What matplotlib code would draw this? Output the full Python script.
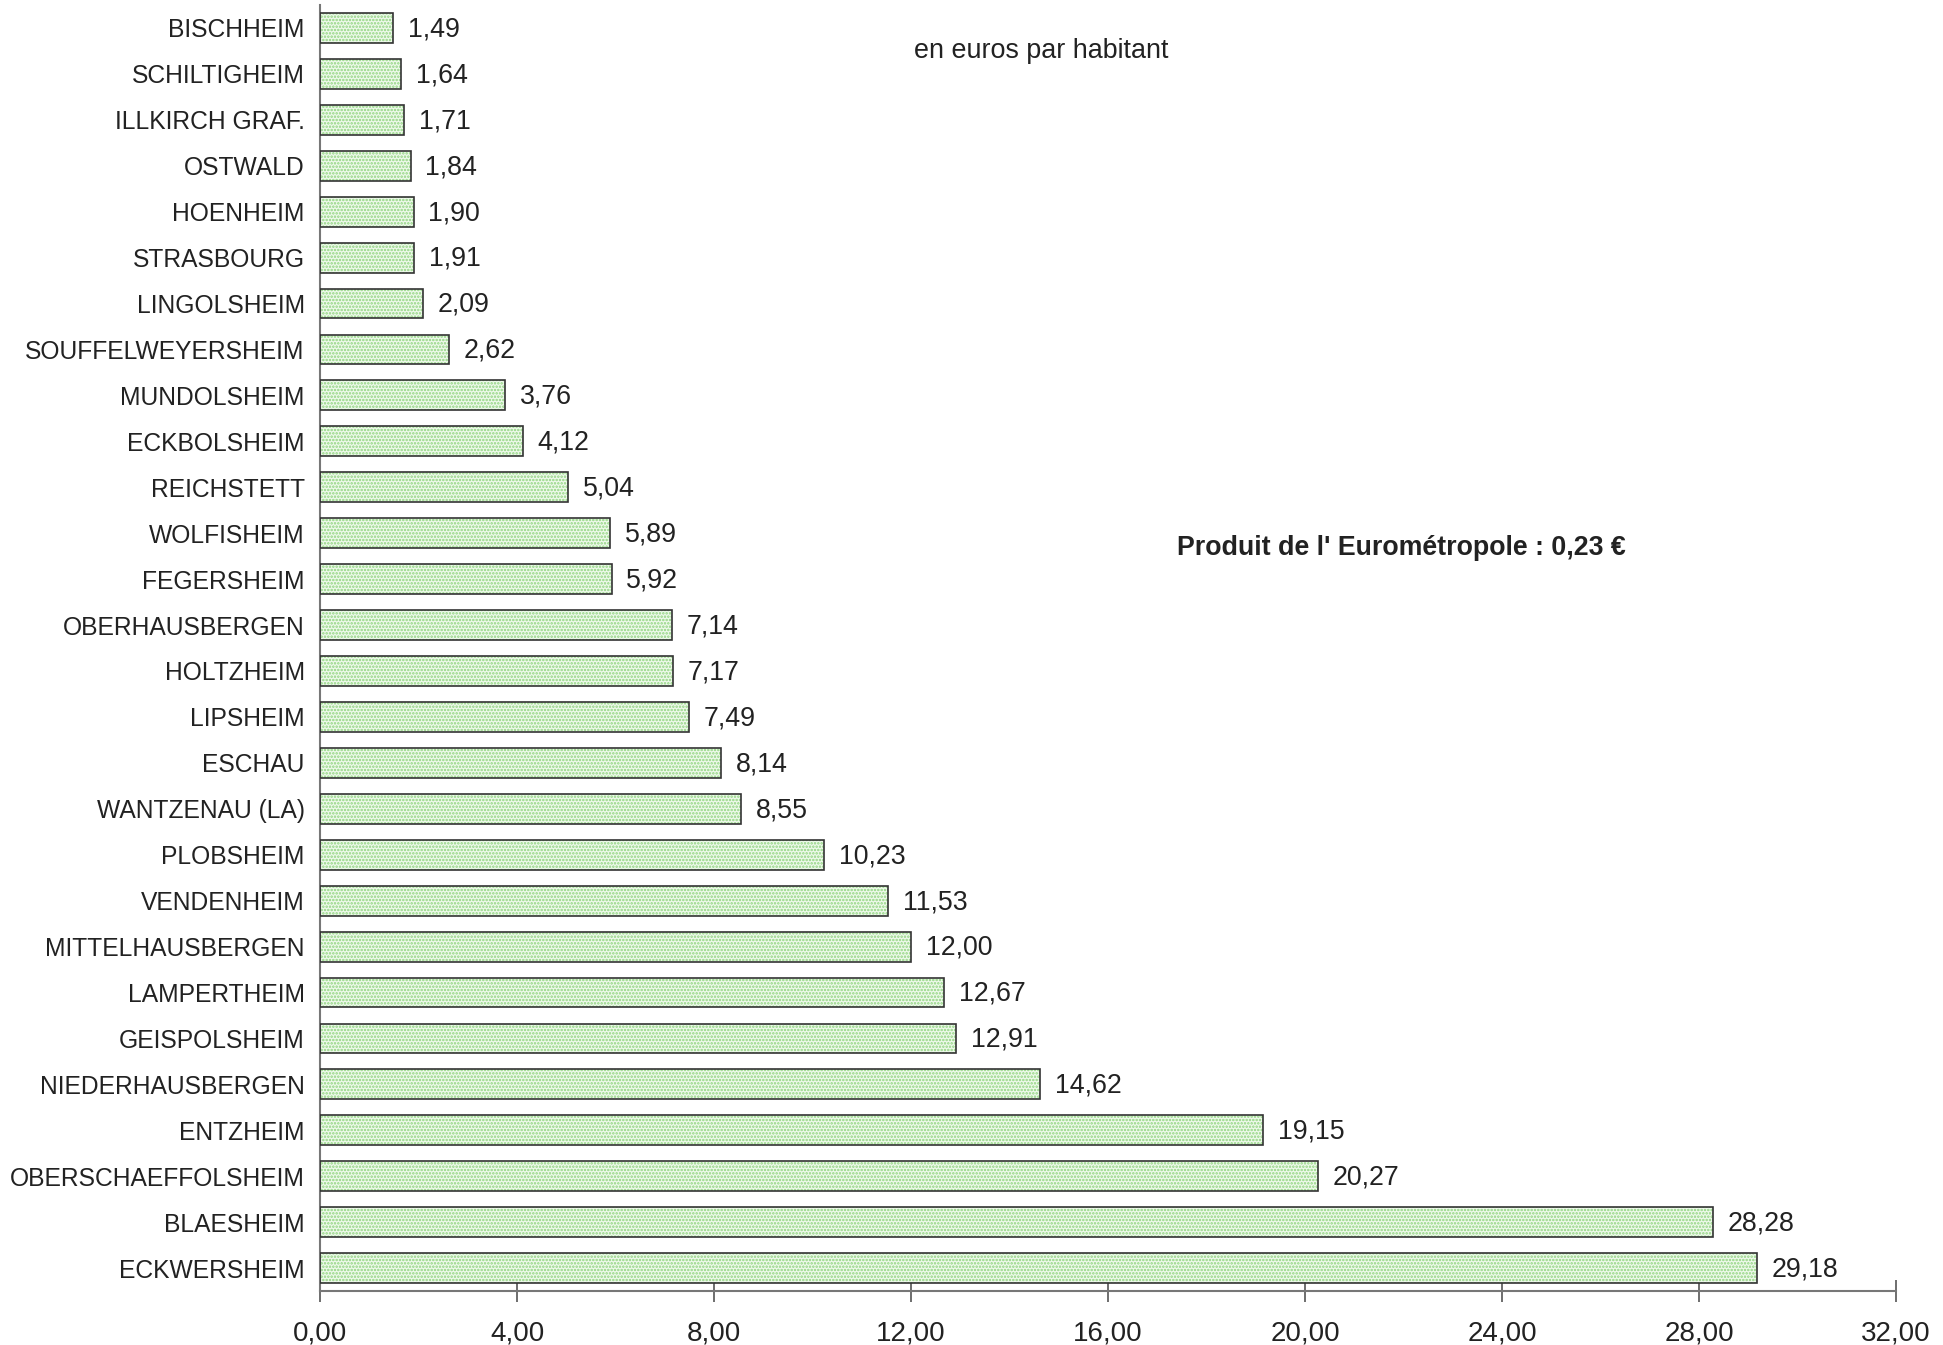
import matplotlib
matplotlib.use("Agg")
import matplotlib.pyplot as plt
import numpy as np

plt.rcParams['font.family'] = ['Liberation Sans', 'DejaVu Sans']
plt.rcParams['hatch.linewidth'] = 1.2

communes = ["BISCHHEIM", "SCHILTIGHEIM", "ILLKIRCH GRAF.", "OSTWALD", "HOENHEIM",
            "STRASBOURG", "LINGOLSHEIM", "SOUFFELWEYERSHEIM", "MUNDOLSHEIM",
            "ECKBOLSHEIM", "REICHSTETT", "WOLFISHEIM", "FEGERSHEIM",
            "OBERHAUSBERGEN", "HOLTZHEIM", "LIPSHEIM", "ESCHAU", "WANTZENAU (LA)",
            "PLOBSHEIM", "VENDENHEIM", "MITTELHAUSBERGEN", "LAMPERTHEIM",
            "GEISPOLSHEIM", "NIEDERHAUSBERGEN", "ENTZHEIM", "OBERSCHAEFFOLSHEIM",
            "BLAESHEIM", "ECKWERSHEIM"]
valeurs = [1.49, 1.64, 1.71, 1.84, 1.90, 1.91, 2.09, 2.62, 3.76, 4.12, 5.04,
           5.89, 5.92, 7.14, 7.17, 7.49, 8.14, 8.55, 10.23, 11.53, 12.00, 12.67,
           12.91, 14.62, 19.15, 20.27, 28.28, 29.18]
xticks = [0, 4, 8, 12, 16, 20, 24, 28, 32]

fig = plt.figure(figsize=(19.43, 13.45), dpi=100)
ax = fig.add_axes([0.1647, 0.0401, 0.8111, 0.9562])

y = np.arange(len(communes))
# dotted fill then outline on top
ax.barh(y, valeurs, height=0.65, color='#eef9eb', edgecolor='#8fd47e',
        hatch='.....', linewidth=0, zorder=2)
ax.barh(y, valeurs, height=0.65, fill=False, edgecolor='#333333',
        linewidth=1.2, zorder=3)

for yi, v in zip(y, valeurs):
    ax.text(v + 0.3, yi + 0.03, ("%.2f" % v).replace('.', ','), va='center',
            ha='left', fontsize=19.3, color='#222222')

ax.set_ylim(len(communes) - 0.5, -0.5)
ax.set_xlim(0, 32)
ax.set_yticks(y)
ax.set_yticklabels(communes, fontsize=17.7, color='#222222')
ax.set_xticks(xticks)
ax.set_xticklabels([("%.2f" % t).replace('.', ',') for t in xticks],
                   fontsize=20, color='#222222')
ax.tick_params(axis='y', length=0, pad=11)
ax.tick_params(axis='x', direction='inout', length=16, width=1.2,
               color='#555555', pad=13)

for s in ['top', 'right']:
    ax.spines[s].set_visible(False)
for s in ['left', 'bottom']:
    ax.spines[s].set_color('#777777')
    ax.spines[s].set_linewidth(1.5)

fig.text(1041 / 1943, 1 - 51 / 1345, "en euros par habitant", ha='center',
         va='center', fontsize=19.4, color='#222222')
fig.text(1177 / 1943, 1 - 548 / 1345, "Produit de l' Eurométropole : 0,23 €",
         ha='left', va='center', fontsize=19.3, fontweight='bold', color='#222222')

fig.savefig("out.png", dpi=100)
